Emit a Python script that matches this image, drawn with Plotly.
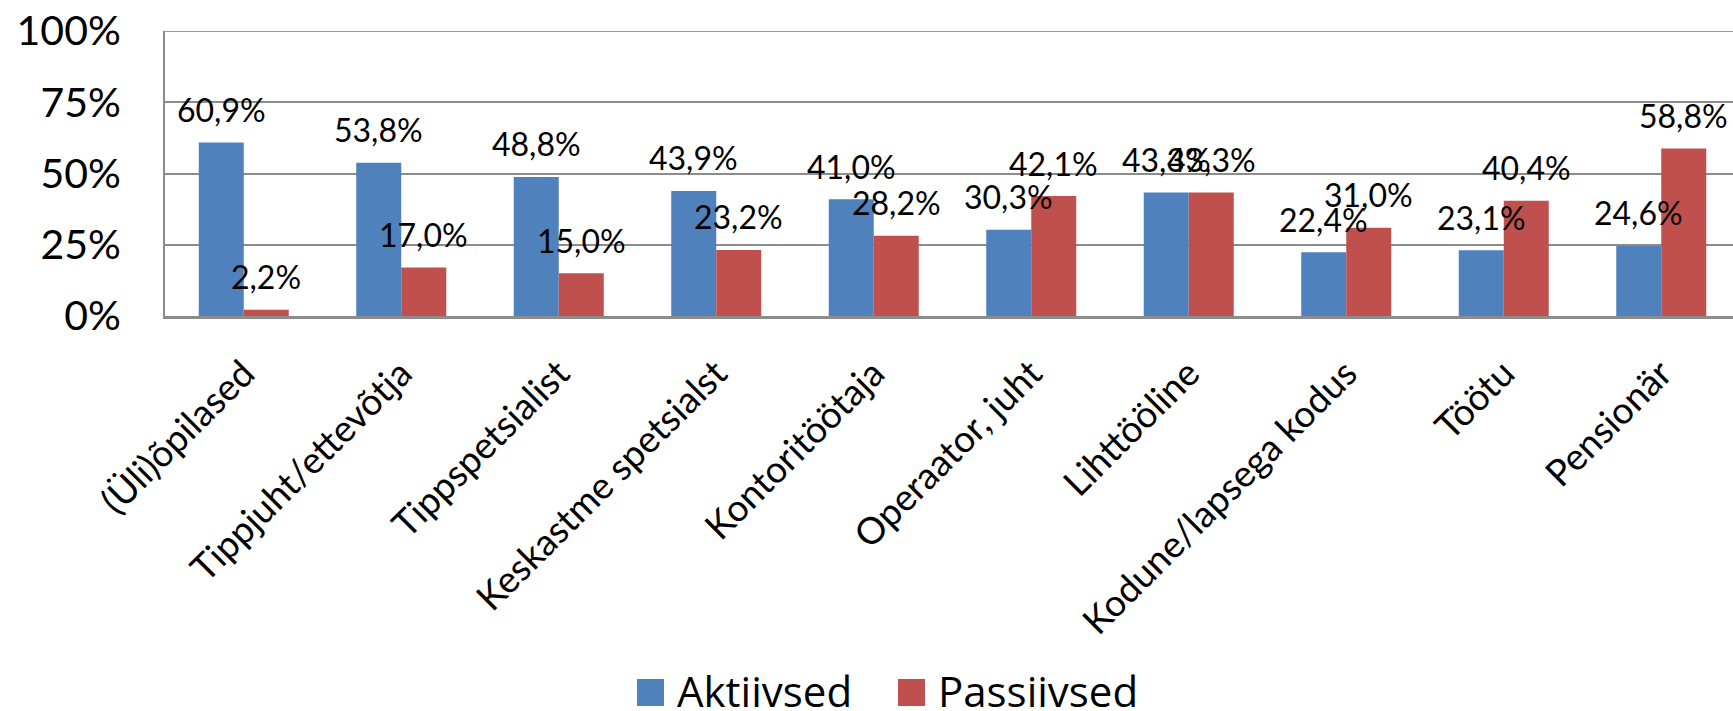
import plotly.graph_objects as go

# Occupational groups (x categories)
categories = [
    "(Üli)õpilased",
    "Tippjuht/ettevõtja",
    "Tippspetsialist",
    "Keskastme spetsialst",
    "Kontoritöötaja",
    "Operaator, juht",
    "Lihttööline",
    "Kodune/lapsega kodus",
    "Töötu",
    "Pensionär",
]

# Share of respondents, percent
aktiivsed = [60.9, 53.8, 48.8, 43.9, 41.0, 30.3, 43.3, 22.4, 23.1, 24.6]
passiivsed = [2.2, 17.0, 15.0, 23.2, 28.2, 42.1, 43.3, 31.0, 40.4, 58.8]

series_names = ["Aktiivsed", "Passiivsed"]

y_ticks = [0, 25, 50, 75, 100]
y_tick_labels = ["0%", "25%", "50%", "75%", "100%"]

BLUE = "#4F81BD"
RED = "#C0504D"
GRID = "#8C8C8C"
FONT = "Lato, 'Open Sans', sans-serif"
LEGEND_FONT = "'Open Sans', 'Noto Sans', sans-serif"

W, H = 1733, 711
L, T, B = 165, 31, 395
plot_w = W - L
plot_h = H - T - B
cat_px = 157.5
x_max = -0.5 + plot_w / cat_px


def fmt(v):
    return f"{v:.1f}%".replace(".", ",")


def px_to_paper_x(px):
    return (px - L) / plot_w


def px_to_paper_y(py):
    return (T + plot_h - py) / plot_h


fig = go.Figure()
fig.add_trace(go.Bar(name=series_names[0], x=categories, y=aktiivsed,
                     marker=dict(color=BLUE, line=dict(width=0))))
fig.add_trace(go.Bar(name=series_names[1], x=categories, y=passiivsed,
                     marker=dict(color=RED, line=dict(width=0))))

# Value labels centred above each bar
half_bar = cat_px * (1 - 0.4286) / 4
annotations = []
for series, shift in ((aktiivsed, -half_bar), (passiivsed, half_bar)):
    for c, v in zip(categories, series):
        annotations.append(dict(
            x=c, y=v, xref="x", yref="y", text=fmt(v), showarrow=False,
            xshift=shift, yshift=33, xanchor="center", yanchor="middle",
            font=dict(family=FONT, size=32, color="black"),
        ))

# Legend drawn below the axis with large square swatches
shapes = [dict(type="line", xref="paper", yref="y", x0=0, x1=1, y0=100, y1=100,
               line=dict(color="#7A9CCB", width=2), layer="above")]
legend_items = [(series_names[0], BLUE, 637), (series_names[1], RED, 898)]
for name, color, x0 in legend_items:
    shapes.append(dict(
        type="rect", xref="paper", yref="paper",
        x0=px_to_paper_x(x0), x1=px_to_paper_x(x0 + 27),
        y0=px_to_paper_y(706), y1=px_to_paper_y(679),
        fillcolor=color, line=dict(width=0),
    ))
    annotations.append(dict(
        x=px_to_paper_x(x0 + 38), y=px_to_paper_y(690), xref="paper", yref="paper",
        text=name, showarrow=False, xanchor="left", yanchor="middle",
        font=dict(family=LEGEND_FONT, size=42, color="black"),
    ))

fig.update_layout(
    width=W, height=H,
    margin=dict(l=L, r=0, t=T, b=B, pad=0),
    paper_bgcolor="white", plot_bgcolor="white",
    barmode="group", bargap=0.4286, bargroupgap=0,
    font=dict(family=FONT, color="black"),
    annotations=annotations,
    shapes=shapes,
    showlegend=False,
)

fig.update_xaxes(
    type="category", range=[-0.5, x_max],
    tickangle=-45, tickfont=dict(family=FONT, size=37, color="black"),
    showline=True, linecolor=GRID, linewidth=3,
    showgrid=False, ticks="", ticklabelstandoff=18,
)
fig.update_yaxes(
    range=[0, 100], tickvals=y_ticks, ticktext=y_tick_labels,
    tickfont=dict(family=FONT, size=41, color="black"),
    showgrid=True, gridcolor=GRID, gridwidth=2,
    showline=True, linecolor=GRID, linewidth=2,
    zeroline=False, ticks="", ticklabelstandoff=34,
)

fig.write_html("out.html")
